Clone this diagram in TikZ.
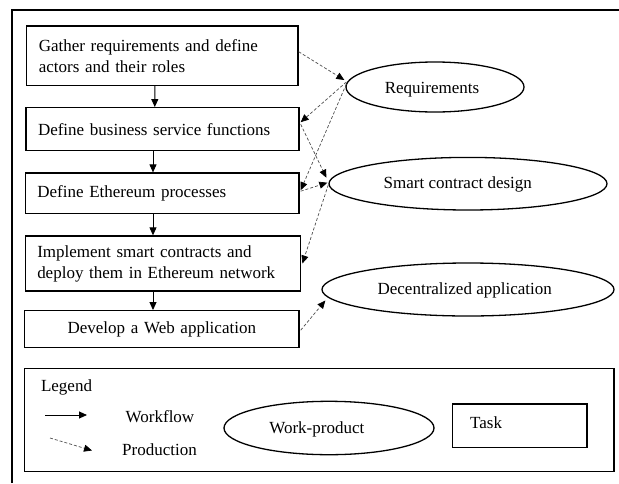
\documentclass[tikz,border=0pt]{standalone}
\usepackage{fontspec}
\setmainfont{Liberation Serif}
\usetikzlibrary{shapes.geometric,arrows.meta}
\begin{document}
\begin{tikzpicture}[x=1pt,y=-1pt,
  font=\fontsize{17}{21}\selectfont,
  taskbox/.style={draw,line width=1.3pt,inner xsep=12pt,inner ysep=0pt,align=left},
  product/.style={draw,ellipse,line width=1.3pt,inner sep=0pt},
  flow/.style={-{Triangle[length=8pt,width=7pt]},line width=0.9pt},
  prod/.style={-{Triangle[length=8pt,width=7pt,color=black]},line width=0.7pt,
               dash pattern=on 3pt off 2pt,draw=black!70}
]
\useasboundingbox (0,0) rectangle (619,483);

% outer frame (top and left edges)
\draw[line width=1.4pt] (12,483) -- (12,10) -- (619,10);

% tasks
\node[taskbox,text width=247.2pt,minimum height=59.3pt] (box1) at (162.4,55.7)
  {Gather requirements and define\\actors and their roles};
\node[taskbox,text width=249pt,minimum height=43pt] (box2) at (162.5,129.2)
  {Define business service functions};
\node[taskbox,text width=249.7pt,minimum height=40.3pt] (box3) at (162.2,193.2)
  {Define Ethereum processes};
\node[taskbox,text width=251.5pt,minimum height=55pt] (box4) at (163,263.5)
  {Implement smart contracts and\\deploy them in Ethereum network};
\node[taskbox,align=center,text width=250.5pt,minimum height=37pt] (box5) at (161.8,329.2)
  {Develop a Web application};

% work-products
\node[product,minimum width=178pt,minimum height=50pt] (req) at (435,87) {};
\node[anchor=base] (reqtext) at (432,93.3) {Requirements};
\node[product,minimum width=278pt,minimum height=52.6pt] (smart) at (468,183.7) {};
\node[anchor=base] (smarttext) at (457.8,188.3) {Smart contract design};
\node[product,minimum width=292pt,minimum height=53pt] (dec) at (468,289.5) {};
\node[anchor=base] (dectext) at (464.7,294.3) {Decentralized application};

% workflow
\draw[flow] ([xshift=-7.6pt]box1.south) -- ([xshift=-7.7pt]box2.north);
\draw[flow] ([xshift=-9.5pt]box2.south) -- ([xshift=-9.2pt]box3.north);
\draw[flow] ([xshift=-9.2pt]box3.south) -- ([xshift=-10pt]box4.north);
\draw[flow] ([xshift=-10pt]box4.south) -- ([xshift=-8.8pt]box5.north);

% production
\draw[prod] ([yshift=4pt]box1.east) -- ([xshift=-1pt,yshift=7pt]req.west);
\draw[prod] ([xshift=1pt,yshift=5pt]req.west) -- ([xshift=1pt,yshift=7pt]box2.east);
\draw[prod] ([xshift=1pt,yshift=3pt]req.west) -- ([xshift=1pt,yshift=3pt]box3.east);
\draw[prod] ([xshift=1pt,yshift=5pt]box2.east) -- ([xshift=-2pt,yshift=6pt]smart.west);
\draw[prod] ([xshift=1pt,yshift=2pt]box3.east) -- ([xshift=-1pt,yshift=1pt]smart.west);
\draw[prod] ([yshift=-1pt]smart.west) -- ([xshift=1pt]box4.east);
\draw[prod] ([xshift=1pt,yshift=-1pt]box5.east) -- ([xshift=4pt,yshift=-11pt]dec.west);

% legend
\node[draw,line width=1.3pt,minimum width=589.5pt,minimum height=103.4pt,inner sep=0pt]
  (legend) at (319.25,420) {};
\node[anchor=base west] (legendtitle) at (37.5,391.5) {Legend};
\coordinate (wfa) at (45,415);
\coordinate (wfb) at (87,415);
\draw[flow] (wfa) -- (wfb);
\node[anchor=base] (wftext) at (160,422) {Workflow};
\coordinate (pra) at (50,438);
\coordinate (prb) at (92,450.5);
\draw[prod] (pra) -- (prb);
\node[anchor=base] (prtext) at (159.5,455) {Production};
\node[product,minimum width=210pt,minimum height=53.4pt] (wp) at (329,428) {};
\node[anchor=base] (wptext) at (316.8,433) {Work-product};
\node[draw,line width=1.3pt,minimum width=134.2pt,minimum height=43.3pt,inner sep=0pt]
  (tasklegend) at (519.9,425.65) {};
\node[anchor=base west] (tasktext) at (466.6,428) {Task};
\end{tikzpicture}
\end{document}
